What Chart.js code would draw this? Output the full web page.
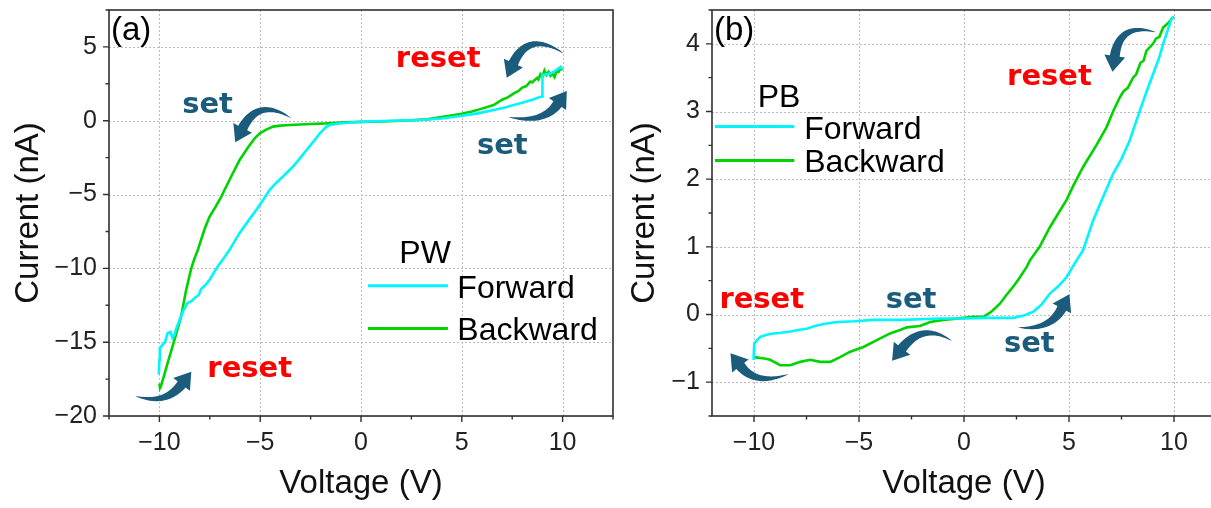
<!DOCTYPE html>
<html><head><meta charset="utf-8">
<script src="https://cdn.jsdelivr.net/npm/chart.js@4/dist/chart.umd.min.js"></script>
<style>
html,body{margin:0;padding:0;background:#fff;overflow:hidden;width:1211px;height:508px;position:relative;}
#ca{position:absolute;left:0;top:0;}
#cb{position:absolute;left:603px;top:0;}
</style></head><body>
<canvas id="ca" width="620" height="508"></canvas>
<canvas id="cb" width="620" height="508"></canvas>
<script>
// ---------- Data (Voltage V, Current nA) ----------
const pwForward = [[-10.03,-17.2],[-10.0,-16.2],[-9.98,-15.4],[-9.85,-15.2],[-9.72,-15.0],[-9.6,-14.4],[-9.45,-14.3],[-9.35,-14.7],[-9.25,-14.5],[-9.17,-14.1],[-9.0,-13.5],[-8.83,-12.9],[-8.6,-12.35],[-8.4,-12.2],[-8.2,-11.95],[-8.05,-11.8],[-7.93,-11.4],[-7.7,-11.1],[-7.5,-10.75],[-7.3,-10.3],[-7.1,-9.86],[-6.8,-9.3],[-6.5,-8.7],[-6.2,-8.0],[-6.02,-7.6],[-5.6,-6.8],[-5.19,-6.03],[-4.85,-5.35],[-4.53,-4.68],[-4.2,-4.2],[-3.87,-3.78],[-3.37,-3.1],[-3.0,-2.5],[-2.7,-1.98],[-2.35,-1.4],[-2.04,-0.85],[-1.75,-0.45],[-1.54,-0.28],[-1.2,-0.2],[-0.5,-0.12],[0,-0.08],[1,-0.02],[2,0.02],[3,0.05],[4,0.15],[4.93,0.32],[5.8,0.5],[6.58,0.72],[7.1,0.88],[7.58,1.06],[8.0,1.22],[8.5,1.42],[8.91,1.62],[8.99,1.62],[9.0,3.09],[9.2,3.15],[9.4,3.2],[9.6,3.35],[9.75,3.5],[9.9,3.65],[10,3.5]];
const pwBackward = [[10.0,3.43],[9.9,3.55],[9.8,3.3],[9.7,3.35],[9.6,2.97],[9.5,3.2],[9.4,3.05],[9.3,3.3],[9.2,3.1],[9.1,3.4],[9.0,3.0],[8.9,3.15],[8.8,2.8],[8.74,2.9],[8.6,2.75],[8.5,2.6],[8.4,2.66],[8.2,2.35],[8.0,2.25],[7.8,2.0],[7.58,1.85],[7.3,1.6],[7.0,1.42],[6.58,1.06],[6.0,0.82],[5.5,0.62],[4.93,0.45],[4.0,0.25],[3.27,0.09],[2.0,0.0],[1.0,-0.05],[0,-0.08],[-1,-0.12],[-1.71,-0.18],[-2.5,-0.22],[-3.53,-0.29],[-4.0,-0.33],[-4.36,-0.4],[-4.7,-0.6],[-5.02,-0.85],[-5.27,-1.19],[-5.6,-1.8],[-6.02,-2.66],[-6.52,-4.0],[-6.93,-5.14],[-7.2,-5.8],[-7.51,-6.49],[-7.75,-7.3],[-7.93,-8.06],[-8.09,-8.74],[-8.25,-9.3],[-8.42,-10.0],[-8.67,-11.44],[-8.92,-13.24],[-9.25,-14.82],[-9.59,-16.4],[-9.8,-17.4],[-9.92,-17.97],[-9.97,-18.1],[-10.0,-17.8]];
const pbForward = [[-10.02,-0.67],[-10.0,-0.5],[-9.99,-0.43],[-9.85,-0.38],[-9.7,-0.33],[-9.4,-0.3],[-9.07,-0.28],[-8.7,-0.27],[-8.27,-0.25],[-7.9,-0.23],[-7.48,-0.21],[-7.1,-0.17],[-6.69,-0.14],[-6.05,-0.11],[-5.2,-0.1],[-4.31,-0.08],[-3.0,-0.08],[-1.14,-0.06],[0,-0.06],[1.0,-0.05],[2.35,-0.05],[2.8,-0.02],[3.3,0.04],[3.7,0.15],[4.09,0.31],[4.5,0.42],[4.88,0.55],[5.36,0.8],[5.67,0.95],[6.15,1.39],[6.6,1.72],[7.1,2.08],[7.5,2.3],[7.89,2.57],[8.37,3.01],[8.7,3.3],[9.0,3.55],[9.3,3.8],[9.48,4.0],[9.7,4.2],[9.88,4.37],[10.0,4.4]];
const pbBackward = [[10.0,4.4],[9.95,4.39],[9.7,4.3],[9.48,4.24],[9.3,4.1],[9.15,4.08],[9.0,4.0],[8.85,3.95],[8.69,3.9],[8.55,3.75],[8.4,3.72],[8.2,3.55],[8.05,3.5],[7.8,3.35],[7.6,3.3],[7.42,3.21],[7.1,3.0],[6.79,2.77],[6.3,2.5],[5.67,2.18],[5.2,1.9],[4.88,1.69],[4.5,1.5],[4.09,1.29],[3.6,1.0],[3.14,0.8],[2.98,0.7],[2.6,0.52],[2.34,0.41],[2.0,0.28],[1.71,0.16],[1.3,0.04],[0.92,-0.035],[0.44,-0.035],[0,-0.05],[-0.98,-0.08],[-1.62,-0.11],[-2.09,-0.17],[-2.72,-0.19],[-3.04,-0.23],[-3.52,-0.28],[-4.15,-0.38],[-4.79,-0.48],[-5.42,-0.55],[-5.9,-0.63],[-6.37,-0.7],[-6.85,-0.7],[-7.32,-0.67],[-7.8,-0.7],[-8.27,-0.75],[-8.75,-0.75],[-9.23,-0.67],[-9.5,-0.65],[-10.0,-0.63]];

// ---------- Tick labels ----------
const pwXMajor = [-10,-5,0,5,10],   pwXMinor = [-12.5,-7.5,-2.5,2.5,7.5,12.5];
const pwYMajor = [-20,-15,-10,-5,0,5], pwYMinor = [-17.5,-12.5,-7.5,-2.5,2.5,7.5];
const pbXMajor = [-10,-5,0,5,10],   pbXMinor = [-7.5,-2.5,2.5,7.5];
const pbYMajor = [-1,0,1,2,3,4],    pbYMinor = [-1.5,-0.5,0.5,1.5,2.5,3.5,4.5];
const seriesLabels = ['Forward','Backward'];

const CYAN = '#00f5ff', GREEN = '#00d400', TEAL = '#1b5b7b', RED = '#ff0000';
const FONT = '"Liberation Sans", Arial, sans-serif';
const BOLD = '"DejaVu Sans", Verdana, sans-serif';
const fmt = v => v < 0 ? '\u2212' + Math.abs(v) : String(v);

function drawArrow(ctx, X, Y, a) {
  const t=[X(a.tail[0]),Y(a.tail[1])], c=[X(a.ctrl[0]),Y(a.ctrl[1])], n=[X(a.neck[0]),Y(a.neck[1])];
  const N=30, L=[], R=[]; let dx=0, dy=0;
  for (let i=0;i<=N;i++){
    const s=i/N, u=1-s;
    const bx=u*u*t[0]+2*u*s*c[0]+s*s*n[0], by=u*u*t[1]+2*u*s*c[1]+s*s*n[1];
    dx=2*u*(c[0]-t[0])+2*s*(n[0]-c[0]); dy=2*u*(c[1]-t[1])+2*s*(n[1]-c[1]);
    const len=Math.hypot(dx,dy)||1, nx=-dy/len, ny=dx/len;
    const w=(a.w||10)/2*Math.pow(s,0.75);
    L.push([bx+nx*w,by+ny*w]); R.push([bx-nx*w,by-ny*w]);
  }
  const len=Math.hypot(dx,dy)||1, ux=dx/len, uy=dy/len, nx=-uy, ny=ux;
  const hw=a.hw||10.5, hl=a.hl||16;
  ctx.beginPath();
  ctx.moveTo(L[0][0],L[0][1]);
  L.forEach(p=>ctx.lineTo(p[0],p[1]));
  ctx.lineTo(n[0]+nx*hw,n[1]+ny*hw);
  ctx.lineTo(n[0]+ux*hl,n[1]+uy*hl);
  ctx.lineTo(n[0]-nx*hw,n[1]-ny*hw);
  for (let i=R.length-1;i>=0;i--) ctx.lineTo(R[i][0],R[i][1]);
  ctx.closePath(); ctx.fillStyle=TEAL; ctx.fill();
}

const decorPlugin = {
  id: 'decor',
  beforeDatasetsDraw(chart, args, o) {
    const {ctx, chartArea: ca} = chart;
    const xs = chart.scales.x, ys = chart.scales.y;
    ctx.save();
    ctx.strokeStyle = '#bcbcbc'; ctx.lineWidth = 1; ctx.setLineDash([2, 2]);
    ctx.beginPath();
    o.xMajor.forEach(v=>{const p=Math.round(xs.getPixelForValue(v))+0.5; ctx.moveTo(p,ca.top); ctx.lineTo(p,ca.bottom);});
    o.yMajor.forEach(v=>{const p=Math.round(ys.getPixelForValue(v))+0.5; ctx.moveTo(ca.left,p); ctx.lineTo(ca.right,p);});
    ctx.stroke();
    ctx.restore();
  },
  afterDraw(chart, args, o) {
    const {ctx, chartArea: ca} = chart;
    const xs = chart.scales.x, ys = chart.scales.y;
    const X = v => xs.getPixelForValue(v), Y = v => ys.getPixelForValue(v);
    ctx.save();
    // frame
    ctx.strokeStyle = '#303030'; ctx.lineWidth = 1.6;
    ctx.strokeRect(ca.left, ca.top, ca.right-ca.left, ca.bottom-ca.top);
    // tick marks
    ctx.lineWidth = 1.4; ctx.beginPath();
    o.xMajor.forEach(v=>{const p=X(v); ctx.moveTo(p,ca.bottom); ctx.lineTo(p,ca.bottom+6);});
    o.xMinor.forEach(v=>{const p=X(v); ctx.moveTo(p,ca.bottom); ctx.lineTo(p,ca.bottom+3.5);});
    o.yMajor.forEach(v=>{const p=Y(v); ctx.moveTo(ca.left,p); ctx.lineTo(ca.left-6,p);});
    o.yMinor.forEach(v=>{const p=Y(v); ctx.moveTo(ca.left,p); ctx.lineTo(ca.left-3.5,p);});
    ctx.stroke();
    // panel label
    ctx.fillStyle = '#000'; ctx.font = '33px ' + FONT;
    ctx.textAlign = 'left'; ctx.textBaseline = 'alphabetic';
    ctx.fillText(o.panel, ca.left + 2, ca.top + 30);
    // legend
    const Lg = o.legend;
    ctx.font = '32px ' + FONT;
    ctx.textAlign = 'center';
    ctx.fillText(Lg.title, X(Lg.titleX), Y(Lg.titleY));
    chart.data.datasets.forEach((ds,i)=>{
      const py = Y(Lg.rows[i]);
      ctx.strokeStyle = ds.borderColor; ctx.lineWidth = 3;
      ctx.beginPath(); ctx.moveTo(X(Lg.x0),py); ctx.lineTo(X(Lg.x1),py); ctx.stroke();
      ctx.fillStyle = '#000'; ctx.textAlign = 'left';
      ctx.fillText(ds.label, X(Lg.textX), py + 12);
    });
    // arrows
    o.arrows.forEach(a=>drawArrow(ctx,X,Y,a));
    // notes
    ctx.font = 'bold 29px ' + BOLD; ctx.textAlign = 'center'; ctx.textBaseline = 'middle';
    o.notes.forEach(n=>{ ctx.fillStyle = n.color; ctx.fillText(n.text, X(n.x), Y(n.y)); });
    ctx.restore();
  }
};

function build(id, cfg) {
  const zeroPad = s => { s.paddingTop=0; s.paddingBottom=0; s.paddingLeft=0; s.paddingRight=0; };
  return new Chart(document.getElementById(id), {
    type: 'scatter',
    data: { datasets: [
      { label: seriesLabels[0], data: cfg.fwd.map(p=>({x:p[0],y:p[1]})), borderColor: CYAN, backgroundColor: CYAN, showLine: true, borderWidth: 2.6, pointRadius: 0, tension: 0 },
      { label: seriesLabels[1], data: cfg.bwd.map(p=>({x:p[0],y:p[1]})), borderColor: GREEN, backgroundColor: GREEN, showLine: true, borderWidth: 2.6, pointRadius: 0, tension: 0 }
    ]},
    options: {
      responsive: false, animation: false, devicePixelRatio: 1,
      layout: { padding: { left: 0, right: 7, top: 10, bottom: 0 } },
      plugins: { legend: { display: false }, tooltip: { enabled: false }, decor: cfg.decor },
      scales: {
        x: { type: 'linear', min: cfg.xr[0], max: cfg.xr[1],
          afterBuildTicks: s => { s.ticks = cfg.decor.xMajor.map(v=>({value:v})); },
          afterFit: s => { s.height = 92; zeroPad(s); },
          grid: { display: false, drawTicks: false },
          border: { display: false },
          ticks: { padding: 12, color: '#222', font: { family: FONT, size: 25 }, callback: v => fmt(v), maxRotation: 0, autoSkip: false },
          title: { display: true, text: 'Voltage (V)', color: '#111', font: { family: FONT, size: 33 }, padding: { top: 0, bottom: 4 } } },
        y: { type: 'linear', min: cfg.yr[0], max: cfg.yr[1],
          afterBuildTicks: s => { s.ticks = cfg.decor.yMajor.map(v=>({value:v})); },
          afterFit: s => { s.width = 109; zeroPad(s); },
          grid: { display: false, drawTicks: false },
          border: { display: false },
          ticks: { padding: 12, color: '#222', font: { family: FONT, size: 25 }, callback: v => fmt(v), autoSkip: false },
          title: { display: true, text: 'Current (nA)', color: '#111', font: { family: FONT, size: 33 }, padding: { top: cfg.yTitlePad, bottom: 0 } } }
      }
    },
    plugins: [decorPlugin]
  });
}

build('ca', {
  fwd: pwForward, bwd: pwBackward, xr: [-12.5, 12.5], yr: [-20, 7.5], yTitlePad: 9,
  decor: {
    panel: '(a)', xMajor: pwXMajor, xMinor: pwXMinor, yMajor: pwYMajor, yMinor: pwYMinor,
    legend: { title: 'PW', titleX: 3.18, titleY: -9.62, x0: 0.35, x1: 4.31, textX: 4.78, rows: [-11.17, -14.07] },
    notes: [
      { text: 'set', x: -7.61, y: 1.06, color: TEAL },
      { text: 'reset', x: 3.83, y: 4.17, color: RED },
      { text: 'set', x: 7.01, y: -1.71, color: TEAL },
      { text: 'reset', x: -5.52, y: -16.84, color: RED }
    ],
    arrows: [
      { tail: [-3.45, 0.16], ctrl: [-5.07, 1.6], neck: [-5.87, -0.49] },
      { tail: [10.06, 4.55], ctrl: [8.31, 6.13], neck: [7.56, 3.9] },
      { tail: [7.31, 0.25], ctrl: [9.05, -0.22], neck: [9.75, 1.13] },
      { tail: [-11.2, -18.65], ctrl: [-9.7, -19.28], neck: [-8.9, -17.86] }
    ]
  }
});

build('cb', {
  fwd: pbForward, bwd: pbBackward, xr: [-12, 12], yr: [-1.5, 4.5], yTitlePad: 22,
  decor: {
    panel: '(b)', xMajor: pbXMajor, xMinor: pbXMinor, yMajor: pbYMajor, yMinor: pbYMinor,
    legend: { title: 'PB', titleX: -8.81, titleY: 3.06, x0: -11.86, x1: -8.08, textX: -7.61, rows: [2.777, 2.276] },
    notes: [
      { text: 'reset', x: 4.07, y: 3.5, color: RED },
      { text: 'reset', x: -9.63, y: 0.2, color: RED },
      { text: 'set', x: -2.52, y: 0.21, color: TEAL },
      { text: 'set', x: 3.11, y: -0.45, color: TEAL }
    ],
    arrows: [
      { tail: [9.15, 4.17], ctrl: [7.42, 4.33], neck: [7.18, 3.82] },
      { tail: [-8.36, -0.88], ctrl: [-9.89, -1.06], neck: [-10.65, -0.76] },
      { tail: [-0.58, -0.39], ctrl: [-1.95, -0.11], neck: [-2.95, -0.5] },
      { tail: [2.57, -0.19], ctrl: [4.09, -0.24], neck: [4.66, 0.09] }
    ]
  }
});
</script></body></html>
